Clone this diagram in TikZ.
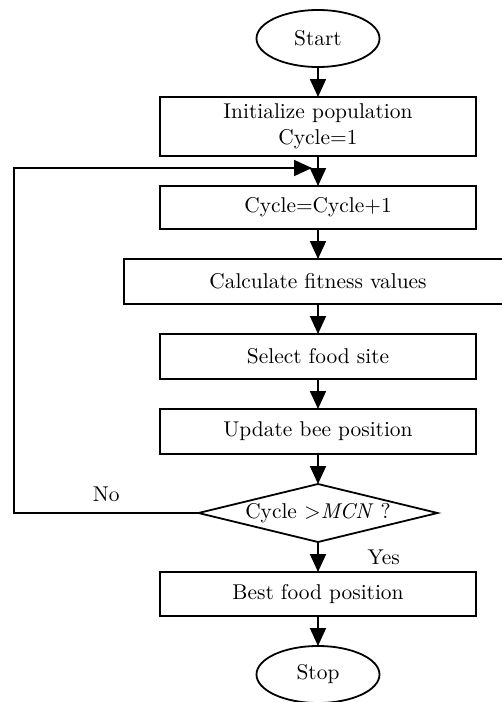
\documentclass[tikz,border=0pt]{standalone}
\usepackage{tikz}
\usetikzlibrary{positioning, shapes.geometric, arrows.meta}

\begin{document}
\begin{tikzpicture}[>={Triangle[length=9pt,width=8pt]}, line width=0.9pt, node distance=15pt,
every node/.style={font=\fontsize{10.7}{12.8}\selectfont},
roundnode/.style={ellipse, draw=black, minimum width=61.5pt, minimum height=28.5pt, inner sep=0pt, outer sep=0pt},
squarednode/.style={rectangle, draw=black, minimum width=158pt, minimum height=22.5pt, inner sep=2pt, outer sep=0pt, align=center},
decisionnode/.style={diamond, aspect=4, draw=black, minimum width=119.5pt, minimum height=29pt, inner sep=0pt, outer sep=0pt},
]
\useasboundingbox (0,0) rectangle (251pt,-351pt);
%Nodes
\node[roundnode]      (start)  at (159pt,-19.25pt)                {Start};
\node[squarednode]    (init)   [below=of start, minimum height=29.5pt] {Initialize population\\Cycle=1};
\node[squarednode]    (cyc)    [below=of init, minimum height=21.5pt]  {Cycle=Cycle+1};
\node[squarednode]    (calc)   [below=of cyc, minimum width=194pt]     {Calculate fitness values};
\node[squarednode]    (select) [below=of calc]                    {Select food site};
\node[squarednode]    (update) [below=of select]                  {Update bee position};
\node[decisionnode]   (dec)    [below=of update]                  {Cycle >\textit{MCN} ?};
\node[squarednode]    (best)   [below=of dec, minimum height=22pt]     {Best food position};
\node[roundnode]      (stop)   [below=of best]                    {Stop};
\coordinate[below=6pt of init.south, xshift=-3pt] (join);
\coordinate (loopleft) at (7pt,0);

%Lines
\draw[->] (start.south) -- (init.north);
\draw[->] (init.south) -- (cyc.north);
\draw[->] (cyc.south) -- (calc.north);
\draw[->] (calc.south) -- (select.north);
\draw[->] (select.south) -- (update.north);
\draw[->] (update.south) -- (dec.north);
\draw[->] (dec.south) -- node[right=21pt] (yes) {Yes} (best.north);
\draw[->] (best.south) -- (stop.north);
\draw[->] (dec.west) -- node[above=2pt] (no) {No} (dec.west -| loopleft) |- (join);
\end{tikzpicture}
\end{document}
